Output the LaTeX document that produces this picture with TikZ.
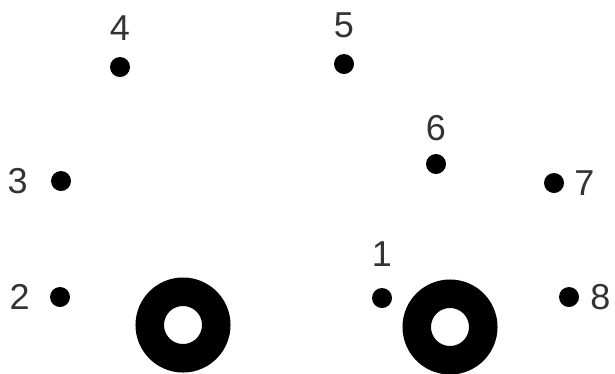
\documentclass[tikz,border=0pt]{standalone}
\usepackage{fontspec}
\setmainfont{Liberation Sans}
\usepackage{tikz}
\usetikzlibrary{positioning}

\begin{document}
\begin{tikzpicture}[
    x=1pt, y=-1pt,
    pin/.style={circle, fill=black, inner sep=0pt, minimum size=20pt},
    num/.style={inner sep=0pt, text=black!80, font=\fontsize{36}{36}\selectfont},
    hole/.style={draw=black, line width=28.5pt}
]
\useasboundingbox (0,0) rectangle (615,373);

% Pins
\node [pin] (p1) at (382,298) {};
\node [pin] (p2) at (60,297) {};
\node [pin] (p3) at (61,181) {};
\node [pin] (p4) at (120,67) {};
\node [pin] (p5) at (344,64) {};
\node [pin] (p6) at (436,164) {};
\node [pin] (p7) at (554,183) {};
\node [pin] (p8) at (569,297) {};

% Pin numbers
\node [num, above=21pt of p1] (n1) {1};
\node [num, left=20pt of p2] (n2) {2};
\node [num, left=23pt of p3] (n3) {3};
\node [num, above=16pt of p4] (n4) {4};
\node [num, above=16pt of p5] (n5) {5};
\node [num, above=13pt of p6] (n6) {6};
\node [num, right=10pt of p7] (n7) {7};
\node [num, right=11pt of p8] (n8) {8};

% Mounting holes
\coordinate (h1) at (183,325);
\coordinate (h2) at (450,327);
\draw [hole] (h1) circle (33.25);
\draw [hole] (h2) circle (33.25);

\end{tikzpicture}
\end{document}
